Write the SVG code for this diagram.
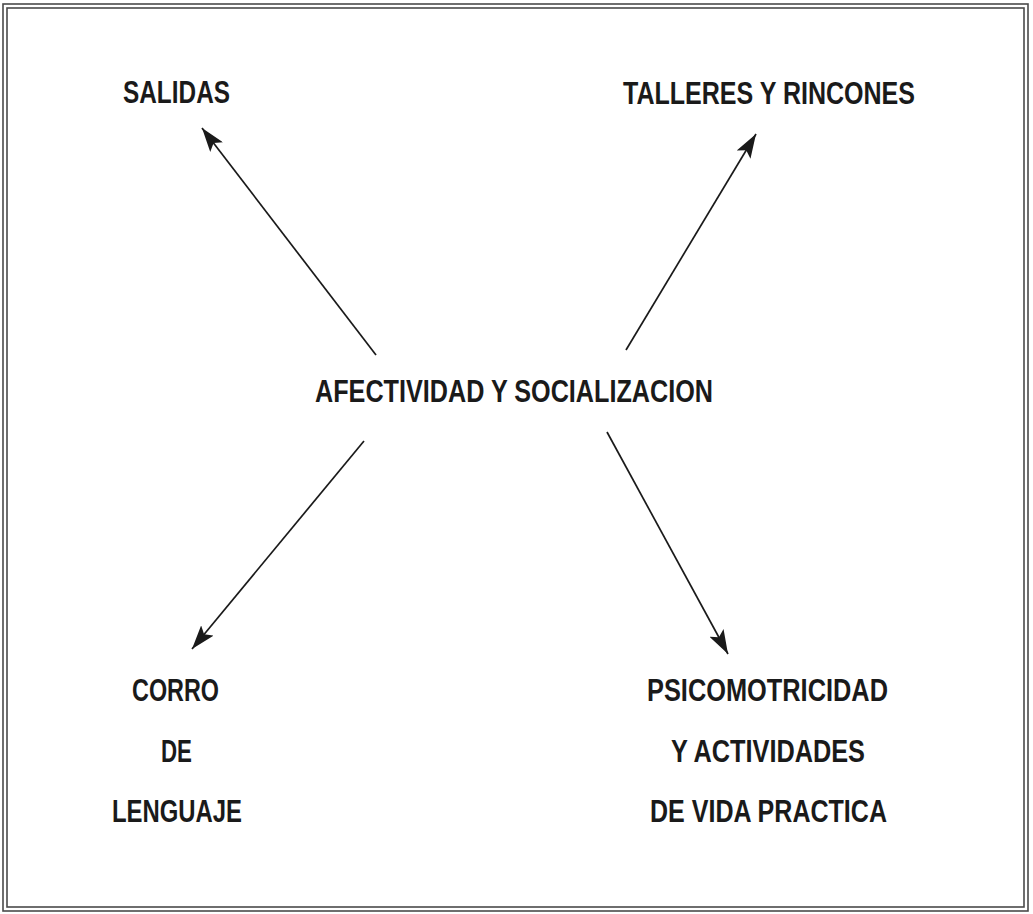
<svg xmlns="http://www.w3.org/2000/svg" width="1033" height="914" viewBox="0 0 1033 914">
<style>
.frame{fill:none;stroke:#4a4a4a;stroke-width:1.6}
.t{font-family:"Liberation Sans Narrow","Liberation Sans",Arial,sans-serif;font-weight:bold;font-size:31px;fill:#1a1a1a;text-anchor:middle}
.c{stroke:#1a1a1a;stroke-width:1.7;fill:none;marker-end:url(#ah)}
</style>
<defs>
<marker id="ah" markerUnits="userSpaceOnUse" markerWidth="26" markerHeight="16" refX="24" refY="8" orient="auto">
<path d="M0,0 L24,8 L0,16 L5,8 z" fill="#1a1a1a"/>
</marker>
</defs>
<rect width="1033" height="914" fill="#ffffff"/>
<rect class="frame" x="3" y="4" width="1025" height="907"/>
<rect class="frame" x="7" y="8" width="1017" height="899"/>
<g id="connectors">
<line class="c" x1="376" y1="355" x2="202" y2="128"/>
<line class="c" x1="626" y1="350" x2="756" y2="134"/>
<line class="c" x1="364" y1="441" x2="192" y2="649"/>
<line class="c" x1="607" y1="432" x2="728" y2="654"/>
</g>
<g id="center"><text class="t" x="514" y="402" textLength="398" lengthAdjust="spacingAndGlyphs">AFECTIVIDAD Y SOCIALIZACION</text></g>
<g id="salidas"><text class="t" x="176.5" y="103" textLength="107" lengthAdjust="spacingAndGlyphs">SALIDAS</text></g>
<g id="talleres"><text class="t" x="769" y="104" textLength="292" lengthAdjust="spacingAndGlyphs">TALLERES Y RINCONES</text></g>
<g id="corro">
<text class="t" x="175.5" y="701" textLength="87" lengthAdjust="spacingAndGlyphs">CORRO</text>
<text class="t" x="176.5" y="762" textLength="31" lengthAdjust="spacingAndGlyphs">DE</text>
<text class="t" x="177" y="822" textLength="130" lengthAdjust="spacingAndGlyphs">LENGUAJE</text>
</g>
<g id="psicomotricidad">
<text class="t" x="767.5" y="701" textLength="241" lengthAdjust="spacingAndGlyphs">PSICOMOTRICIDAD</text>
<text class="t" x="768" y="762" textLength="194" lengthAdjust="spacingAndGlyphs">Y ACTIVIDADES</text>
<text class="t" x="768.5" y="822" textLength="237" lengthAdjust="spacingAndGlyphs">DE VIDA PRACTICA</text>
</g>
</svg>
